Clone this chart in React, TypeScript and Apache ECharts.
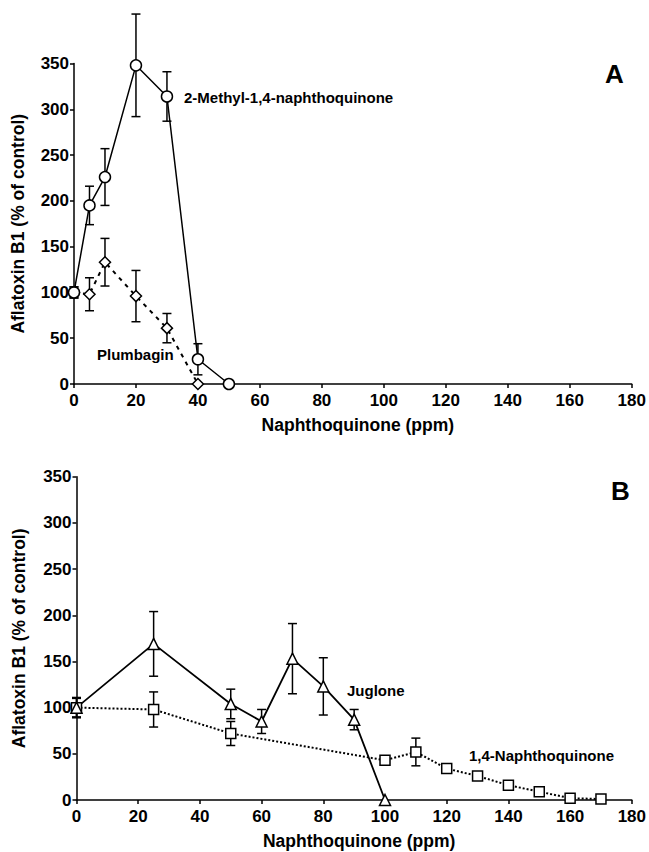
import React, { useEffect, useRef } from "react";
import * as echarts from "echarts";

// Panel A
const methylX = [0, 5, 10, 20, 30, 40, 50];
const methylVals = [100, 195, 226, 348, 314, 27, 0];
const methylErr = [6, 21, 31, 56, 27, 17, 0];
const plumbX = [0, 5, 10, 20, 30, 40];
const plumbVals = [100, 98, 133, 96, 61, 0];
const plumbErr = [6, 18, 26, 28, 16, 0];

// Panel B
const juglX = [0, 25, 50, 60, 70, 80, 90, 100];
const juglVals = [100, 169, 104, 85, 153, 123, 87, 0];
const juglErr = [11, 35, 16, 13, 38, 31, 11, 0];
const nqX = [0, 25, 50, 100, 110, 120, 130, 140, 150, 160, 170];
const nqVals = [100, 98, 72, 43, 52, 34, 26, 16, 9, 2, 1];
const nqErr = [10, 19, 13, 3, 15, 5, 0, 0, 0, 0, 0];

const xTicks = { min: 0, max: 180, interval: 20 };
const yTicks = { min: 0, max: 350, interval: 50 };

const FONT = "'Liberation Sans', Arial, Helvetica, sans-serif";

const pairs = (xs: number[], ys: number[]) => xs.map((x, i) => [x, ys[i]]);
const triples = (xs: number[], ys: number[], es: number[]) =>
  xs.map((x, i) => [x, ys[i], es[i]]);

function errRender(params: any, api: any) {
  const x = api.value(0);
  const y = api.value(1);
  const e = api.value(2);
  if (!e) return null;
  const top = api.coord([x, y + e]);
  const bot = api.coord([x, Math.max(0, y - e)]);
  const w = 4.5;
  const style = { stroke: "#000", lineWidth: 1.5 };
  return {
    type: "group",
    children: [
      { type: "line", shape: { x1: top[0], y1: top[1], x2: bot[0], y2: bot[1] }, style },
      { type: "line", shape: { x1: top[0] - w, y1: top[1], x2: top[0] + w, y2: top[1] }, style },
      { type: "line", shape: { x1: bot[0] - w, y1: bot[1], x2: bot[0] + w, y2: bot[1] }, style },
    ],
  };
}

export default function App() {
  const ref = useRef<HTMLDivElement>(null);
  useEffect(() => {
    if (!ref.current) return;
    const chart = echarts.init(ref.current, null, { renderer: "svg" });
    const axisLabel = { color: "#000", fontFamily: FONT, fontWeight: "bold", fontSize: 17 };
    const axisLine = { show: true, lineStyle: { color: "#000", width: 1.5 } };
    const axisTick = { show: true, length: 4, inside: false, lineStyle: { color: "#000", width: 1.5 } };
    const nameTextStyle = { color: "#000", fontFamily: FONT, fontWeight: "bold", fontSize: 17.5 };
    const mkX = (gi: number) => ({
      type: "value",
      gridIndex: gi,
      ...xTicks,
      axisLine,
      axisTick,
      splitLine: { show: false },
      axisLabel: { ...axisLabel, margin: 8 },
      name: "Naphthoquinone (ppm)",
      nameLocation: "middle",
      nameGap: 32,
      nameTextStyle: { ...nameTextStyle, padding: [0, 0, 0, 10] },
    });
    const mkY = (gi: number) => ({
      type: "value",
      gridIndex: gi,
      ...yTicks,
      axisLine,
      axisTick,
      splitLine: { show: false },
      axisLabel: { ...axisLabel, margin: 5 },
      name: "Aflatoxin B1 (% of control)",
      nameLocation: "middle",
      nameGap: gi === 0 ? 47 : 49,
      nameTextStyle,
    });
    const marker = () => ({ color: "#fff", borderColor: "#000", borderWidth: 1.5 });
    const textStyle = (t: string, x: number, y: number, size: number) => ({
      type: "text",
      x,
      y,
      style: {
        text: t,
        fill: "#000",
        font: `bold ${size}px ${FONT}`,
        verticalAlign: "middle",
      },
    });
    chart.setOption({
      animation: false,
      grid: [
        { left: 74, top: 63.5, right: 17.3, bottom: 468 },
        { left: 76.5, top: 476.7, right: 15.7, bottom: 52 },
      ],
      xAxis: [mkX(0), mkX(1)],
      yAxis: [mkY(0), mkY(1)],
      series: [
        {
          type: "custom",
          xAxisIndex: 0,
          yAxisIndex: 0,
          z: 1,
          renderItem: errRender,
          data: triples(plumbX, plumbVals, plumbErr),
        },
        {
          type: "custom",
          xAxisIndex: 0,
          yAxisIndex: 0,
          z: 1,
          renderItem: errRender,
          data: triples(methylX, methylVals, methylErr),
        },
        {
          name: "Plumbagin",
          type: "line",
          xAxisIndex: 0,
          yAxisIndex: 0,
          data: pairs(plumbX, plumbVals),
          symbol: "diamond",
          symbolSize: 11,
          lineStyle: { color: "#000", width: 2, type: [4, 5] },
          itemStyle: marker(),
        },
        {
          name: "2-Methyl-1,4-naphthoquinone",
          type: "line",
          xAxisIndex: 0,
          yAxisIndex: 0,
          data: pairs(methylX, methylVals),
          symbol: "circle",
          symbolSize: 11,
          lineStyle: { color: "#000", width: 1.5 },
          itemStyle: marker(),
        },
        {
          type: "custom",
          xAxisIndex: 1,
          yAxisIndex: 1,
          z: 1,
          renderItem: errRender,
          data: triples(nqX, nqVals, nqErr),
        },
        {
          type: "custom",
          xAxisIndex: 1,
          yAxisIndex: 1,
          z: 1,
          renderItem: errRender,
          data: triples(juglX, juglVals, juglErr),
        },
        {
          name: "1,4-Naphthoquinone",
          type: "line",
          xAxisIndex: 1,
          yAxisIndex: 1,
          data: pairs(nqX, nqVals),
          symbol: "rect",
          symbolSize: 10,
          lineStyle: { color: "#000", width: 2, type: [2, 2] },
          itemStyle: marker(),
        },
        {
          name: "Juglone",
          type: "line",
          xAxisIndex: 1,
          yAxisIndex: 1,
          data: pairs(juglX, juglVals),
          symbol: "triangle",
          symbolSize: 11,
          lineStyle: { color: "#000", width: 1.8 },
          itemStyle: marker(),
        },
      ],
      graphic: [
        textStyle("2-Methyl-1,4-naphthoquinone", 184, 97, 15),
        textStyle("Plumbagin", 97, 354, 15),
        textStyle("Juglone", 347, 690, 15),
        textStyle("1,4-Naphthoquinone", 469, 755.5, 15),
        textStyle("A", 605, 74, 26),
        textStyle("B", 611, 490.5, 26),
      ],
    });
    return () => chart.dispose();
  }, []);
  return (
    <div
      ref={ref}
      style={{ position: "absolute", left: 0, top: 0, width: 649, height: 852, background: "#fff" }}
    />
  );
}
